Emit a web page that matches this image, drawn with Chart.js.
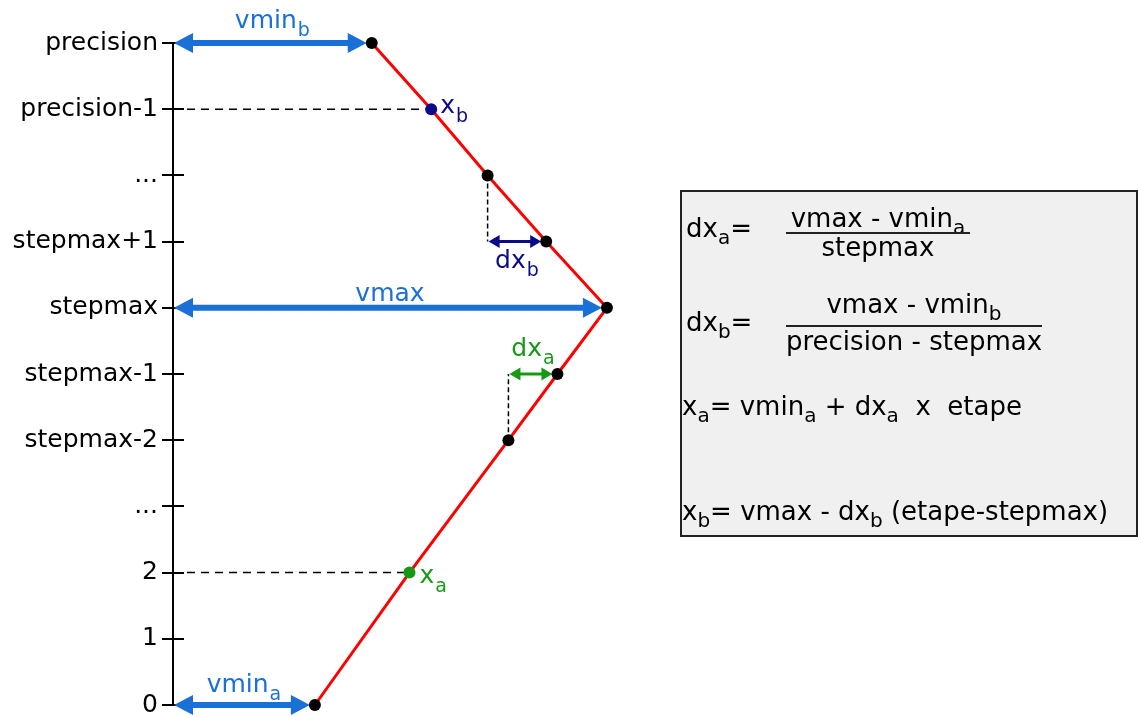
<!DOCTYPE html>
<html>
<head>
<meta charset="utf-8">
<script src="https://cdn.jsdelivr.net/npm/chart.js@4/dist/chart.umd.min.js"></script>
<style>
  body { margin: 0; background: #fff; }
  #wrap { position: relative; width: 1138px; height: 716px; }
  #box {
    position: absolute; left: 680px; top: 190px; width: 458px; height: 347px;
    box-sizing: border-box; border: 2px solid #222; background: #f0f0f0;
  }
  .t {
    position: absolute; font-family: 'DejaVu Sans', sans-serif; font-size: 26px;
    line-height: 26px; white-space: pre; color: #000;
  }
  .c { width: 400px; text-align: center; }
  .s { font-size: 20px; position: relative; top: 7px; }
  .bar { position: absolute; height: 2px; background: #222; }
</style>
</head>
<body>
<div id="wrap">
  <canvas id="diagram"></canvas>
  <div id="box"></div>
</div>
<script>
// levels on the vertical axis (bottom to top)
const levelLabels = ['0', '1', '2', '...', 'stepmax-2', 'stepmax-1', 'stepmax', 'stepmax+1', '...', 'precision-1', 'precision'];

// points of the red curve (x in units where vmax = 100)
const curveLevels = [0, 2, 4, 5, 6, 7, 8, 9, 10];
const curveValues = [32.7, 54.5, 77.3, 88.6, 100, 86.0, 72.5, 59.5, 45.8];
const curveDotColors = ['#000', '#169a16', '#000', '#000', '#000', '#000', '#000', '#0b0b8a', '#000'];

// double arrows
const arrowLevels = [10, 6, 0, 7, 5];
const arrowFrom = [0, 0, 0, 72.5, 77.3];
const arrowTo = [45.8, 100, 32.7, 86.0, 88.6];
const arrowNames = ['vmin', 'vmax', 'vmin', 'dx', 'dx'];
const arrowSubs = ['b', '', 'a', 'b', 'a'];

// dashed guides
const hGuideLevels = [9, 2];
const hGuideTo = [59.5, 54.5];
const vGuideX = [72.5, 77.3];
const vGuideFrom = [8, 4];
const vGuideTo = [7, 5];

// point labels
const pointLabelNames = ['x', 'x'];
const pointLabelSubs = ['b', 'a'];
const pointLabelLevels = [9, 2];
const pointLabelValues = [59.5, 54.5];

const BLUE = '#1a70d6', NAVY = '#0b0b8a', GREEN = '#169a16';
const FONT = "'DejaVu Sans', sans-serif";

// style of each arrow: colour, width, head length, head half width, label offset
const arrowStyle = [
  { color: BLUE, w: 6, hl: 19, hw: 10, dy: -15 },
  { color: BLUE, w: 6, hl: 19, hw: 10, dy: -7 },
  { color: BLUE, w: 6, hl: 19, hw: 10, dy: -13 },
  { color: NAVY, w: 3, hl: 11, hw: 6.5, dy: 26 },
  { color: GREEN, w: 3, hl: 11, hw: 6.5, dy: -18 }
];
const pointLabelStyle = [
  { color: NAVY, dx: 9, dy: 4 },
  { color: GREEN, dx: 10, dy: 10 }
];

function subText(ctx, main, sub, x, y, align, color, drop) {
  ctx.save();
  ctx.fillStyle = color;
  ctx.textBaseline = 'alphabetic';
  ctx.textAlign = 'left';
  ctx.font = '25px ' + FONT;
  const w1 = ctx.measureText(main).width;
  ctx.font = '19px ' + FONT;
  const w2 = sub ? ctx.measureText(sub).width + 1 : 0;
  let x0 = align === 'center' ? x - (w1 + w2) / 2 : x;
  ctx.font = '25px ' + FONT;
  ctx.fillText(main, x0, y);
  if (sub) {
    ctx.font = '19px ' + FONT;
    ctx.fillText(sub, x0 + w1 + 1, y + drop);
  }
  ctx.restore();
}

function head(ctx, tipX, y, dir, hl, hw) {
  ctx.beginPath();
  ctx.moveTo(tipX, y);
  ctx.lineTo(tipX + dir * hl, y - hw);
  ctx.lineTo(tipX + dir * hl, y + hw);
  ctx.closePath();
  ctx.fill();
}

const diagramPlugin = {
  id: 'diagram',
  beforeDatasetsDraw(chart) {
    const ctx = chart.ctx;
    const xs = chart.scales.x, ys = chart.scales.y;
    ctx.save();
    // inner half of the tick marks
    ctx.strokeStyle = '#000';
    ctx.lineWidth = 2;
    for (let i = 0; i < levelLabels.length; i++) {
      const y = Math.round(ys.getPixelForValue(i));
      ctx.beginPath();
      ctx.moveTo(xs.left, y);
      ctx.lineTo(xs.left + 11, y);
      ctx.stroke();
    }
    // dashed guides
    ctx.lineWidth = 1.5;
    ctx.setLineDash([8, 6]);
    hGuideLevels.forEach((lv, i) => {
      const y = ys.getPixelForValue(lv);
      ctx.beginPath();
      ctx.moveTo(xs.getPixelForValue(0) + 14, y);
      ctx.lineTo(xs.getPixelForValue(hGuideTo[i]), y);
      ctx.stroke();
    });
    ctx.setLineDash([5, 3]);
    vGuideX.forEach((v, i) => {
      const x = xs.getPixelForValue(v);
      ctx.beginPath();
      ctx.moveTo(x, ys.getPixelForValue(vGuideFrom[i]));
      ctx.lineTo(x, ys.getPixelForValue(vGuideTo[i]));
      ctx.stroke();
    });
    ctx.setLineDash([]);
    // arrows
    arrowLevels.forEach((lv, i) => {
      const st = arrowStyle[i];
      const y = ys.getPixelForValue(lv);
      const x1 = xs.getPixelForValue(arrowFrom[i]) + 1;
      const x2 = xs.getPixelForValue(arrowTo[i]) - 5;
      ctx.strokeStyle = st.color;
      ctx.fillStyle = st.color;
      ctx.lineWidth = st.w;
      ctx.beginPath();
      ctx.moveTo(x1 + st.hl - 2, y);
      ctx.lineTo(x2 - st.hl + 2, y);
      ctx.stroke();
      head(ctx, x1, y, 1, st.hl, st.hw);
      head(ctx, x2, y, -1, st.hl, st.hw);
    });
    ctx.restore();
  },
  afterDatasetsDraw(chart) {
    const ctx = chart.ctx;
    const xs = chart.scales.x, ys = chart.scales.y;
    arrowLevels.forEach((lv, i) => {
      const st = arrowStyle[i];
      const y = ys.getPixelForValue(lv);
      const xm = (xs.getPixelForValue(arrowFrom[i]) + xs.getPixelForValue(arrowTo[i])) / 2;
      subText(ctx, arrowNames[i], arrowSubs[i], xm, y + st.dy, 'center', st.color, 8);
    });
    pointLabelLevels.forEach((lv, i) => {
      const st = pointLabelStyle[i];
      const x = xs.getPixelForValue(pointLabelValues[i]);
      const y = ys.getPixelForValue(lv);
      subText(ctx, pointLabelNames[i], pointLabelSubs[i], x + st.dx, y + st.dy, 'left', st.color, 9);
    });
  }
};

const ctx = document.getElementById('diagram').getContext('2d');
const chart = new Chart(ctx, {
  type: 'scatter',
  data: {
    datasets: [{
      data: curveLevels.map((lv, i) => ({ x: curveValues[i], y: lv })),
      showLine: true,
      borderColor: '#ff0000',
      borderWidth: 3,
      pointRadius: 6,
      pointBorderWidth: 0,
      pointBackgroundColor: curveDotColors,
      clip: false
    }]
  },
  options: {
    responsive: true,
    maintainAspectRatio: false,
    animation: false,
    layout: { padding: { top: 43, bottom: 11, left: 0, right: 0 } },
    plugins: { legend: { display: false }, tooltip: { enabled: false } },
    scales: {
      x: { type: 'linear', display: false, min: 0, max: 221 },
      y: {
        type: 'linear', min: 0, max: 10,
        afterFit(scale) { scale.width = 173; scale.paddingTop = 0; scale.paddingBottom = 0; },
        ticks: {
          stepSize: 1, autoSkip: false, padding: 4, color: '#000',
          font: { family: FONT, size: 25 },
          callback: v => levelLabels[v]
        },
        grid: { drawOnChartArea: false, tickLength: 11, color: '#000', lineWidth: 2 },
        border: { color: '#000', width: 2 }
      }
    }
  },
  plugins: [diagramPlugin]
});

// formula box (real text); [html, left, baseline, centered]
const formulaLines = [
  ['dx<span class="s">a</span>=', 686, 237, false],
  ['vmax - vmin<span class="s">a</span>', 878, 227, true],
  ['stepmax', 878, 256, true],
  ['dx<span class="s">b</span>=', 686, 331, false],
  ['vmax - vmin<span class="s">b</span>', 914, 313, true],
  ['precision - stepmax', 914, 350, true],
  ['x<span class="s">a</span>= vmin<span class="s">a</span> + dx<span class="s">a</span>  x  etape', 682, 415, false],
  ['x<span class="s">b</span>= vmax - dx<span class="s">b</span> (etape-stepmax)', 682, 520, false]
];
const fractionBars = [[786, 970, 232], [786, 1042, 325]];
const wrap = document.getElementById('wrap');
formulaLines.forEach(([html, x, base, centered]) => {
  const d = document.createElement('div');
  d.className = centered ? 't c' : 't';
  d.innerHTML = html;
  d.style.left = (centered ? x - 200 : x) + 'px';
  d.style.top = (base - 22) + 'px';
  wrap.appendChild(d);
});
fractionBars.forEach(([x1, x2, y]) => {
  const b = document.createElement('div');
  b.className = 'bar';
  b.style.left = x1 + 'px';
  b.style.width = (x2 - x1) + 'px';
  b.style.top = y + 'px';
  wrap.appendChild(b);
});
</script>
</body>
</html>
